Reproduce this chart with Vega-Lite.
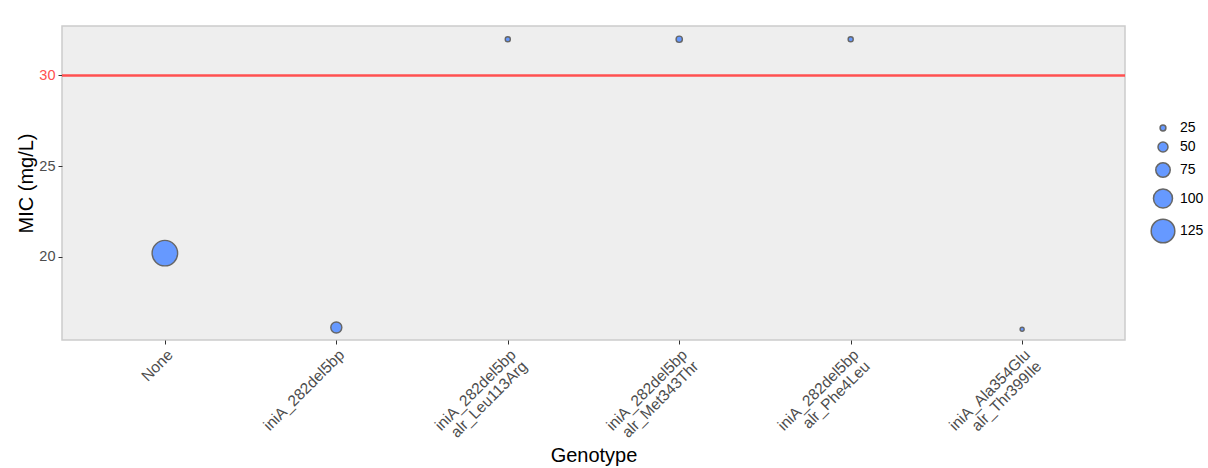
{
  "$schema": "https://vega.github.io/schema/vega-lite/v6.json",
  "width": 1063,
  "height": 314,
  "autosize": {"type": "none"},
  "padding": {"left": 62, "top": 26, "right": 83, "bottom": 128},
  "background": "white",
  "config": {
    "font": "Liberation Sans",
    "view": {"fill": "#EEEEEE", "stroke": "#CCCCCC", "strokeWidth": 1.5},
    "axis": {"grid": false, "domain": false, "tickColor": "#333333", "tickSize": 4, "labelColor": "#4D4D4D", "labelFontSize": 14.5, "titleFontSize": 20, "titleFontWeight": "normal", "titleColor": "#000000"}
  },
  "data": {
    "values": [
      {"Genotype": "None", "MIC": 20.2, "n": 135},
      {"Genotype": "iniA_282del5bp", "MIC": 16.1, "n": 56},
      {"Genotype": "iniA_282del5bp\nalr_Leu113Arg", "MIC": 32, "n": 20},
      {"Genotype": "iniA_282del5bp\nalr_Met343Thr", "MIC": 32, "n": 28},
      {"Genotype": "iniA_282del5bp\nalr_Phe4Leu", "MIC": 32, "n": 20},
      {"Genotype": "iniA_Ala354Glu\nalr_Thr399Ile", "MIC": 16, "n": 11}
    ]
  },
  "layer": [
    {
      "mark": {"type": "rule", "color": "#FF5050", "strokeWidth": 2.5},
      "data": {"values": [{"threshold": 30}]},
      "encoding": {"y": {"field": "threshold", "type": "quantitative"}}
    },
    {
      "mark": {"type": "point", "shape": "circle", "filled": true, "fill": "#6699FF", "stroke": "#666666", "strokeWidth": 1.4, "opacity": 1},
      "encoding": {
        "x": {
          "field": "Genotype", "type": "nominal", "sort": null,
          "scale": {"type": "point", "padding": 0.6},
          "axis": {"title": "Genotype", "labelAngle": -45, "labelAlign": "right", "labelBaseline": "top", "labelFontSize": 15.5, "labelPadding": 3, "labelLineHeight": 16, "labelExpr": "split(datum.value, '\\n')", "titlePadding": 1}
        },
        "y": {
          "field": "MIC", "type": "quantitative",
          "scale": {"domain": [15.41, 32.73], "nice": false, "zero": false},
          "axis": {"title": "MIC (mg/L)", "values": [20, 25, 30], "labelPadding": 3, "titlePadding": 2,
            "labelColor": {"condition": {"test": "datum.value == 30", "value": "#FF5050"}, "value": "#4D4D4D"}}
        },
        "size": {
          "field": "n", "type": "quantitative",
          "scale": {"type": "pow", "exponent": 2, "domain": [0, 150], "range": [12, 800]},
          "legend": {"title": null, "values": [25, 50, 75, 100, 125], "orient": "none", "legendX": 1088, "legendY": 95, "labelFontSize": 14, "labelColor": "#000000", "labelOffset": 4, "rowPadding": 4, "padding": 0,
            "encode": {"symbols": {"update": {"fill": {"value": "#6699FF"}, "stroke": {"value": "#666666"}, "strokeWidth": {"value": 1.4}, "opacity": {"value": 1}}}}}
        }
      }
    }
  ]
}
